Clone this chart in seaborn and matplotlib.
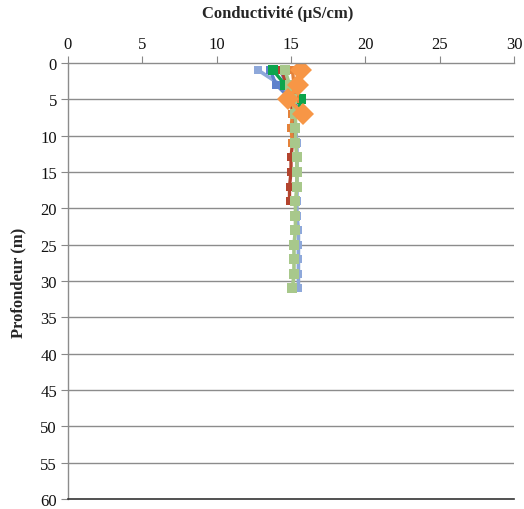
import numpy as np
import pandas as pd
import matplotlib
matplotlib.use("Agg")
import matplotlib.pyplot as plt
import seaborn as sns

# Depth of each sampling point (m)
depth_full = [1, 3, 5, 7, 9, 11, 13, 15, 17, 19, 21, 23, 25, 27, 29, 31]

# Conductivity profiles (µS/cm)
cond_blue = [12.8, 14.3, 15.0, 15.2, 15.3, 15.4, 15.4, 15.4, 15.4, 15.4, 15.4, 15.5, 15.5, 15.5, 15.5, 15.5]
cond_royal = [13.6, 14.0, 15.0]
cond_purple = [14.3, 14.7, 15.3, 15.4]
cond_red = [14.4, 14.7, 15.0, 15.1, 15.1, 15.1, 15.0, 15.0, 14.9, 14.9]
cond_green = [13.8, 14.6, 15.7, 15.4]
cond_darkorange = [15.1, 15.2, 15.3, 15.1, 15.0, 15.1]
cond_lightgreen = [14.6, 14.9, 15.1, 15.3, 15.3, 15.3, 15.4, 15.4, 15.4, 15.3, 15.3, 15.3, 15.2, 15.2, 15.2, 15.1]
cond_orange = [15.7, 15.5, 14.8, 15.8]

x_ticks = [0, 5, 10, 15, 20, 25, 30]
y_ticks = [0, 5, 10, 15, 20, 25, 30, 35, 40, 45, 50, 55, 60]

series = [
    (cond_blue, "#8EA8DA", "s", 6, 2.6),
    (cond_royal, "#5F82CC", "s", 6, 2.4),
    (cond_purple, "#7E68AE", "s", 6, 2.4),
    (cond_red, "#B3442E", "s", 6, 2.4),
    (cond_green, "#0DA54C", "s", 7, 2.4),
    (cond_darkorange, "#E4823A", "s", 6, 2.4),
    (cond_lightgreen, "#A8C88B", "s", 7, 2.6),
    (cond_orange, "#F79646", "D", 11, 2.8),
]

sns.set_style("white")
plt.rcParams["font.family"] = ["Liberation Serif", "DejaVu Serif"]

fig = plt.figure(figsize=(5.24, 5.10), dpi=100)
ax = fig.add_axes([68 / 524, 10 / 510, 446 / 524, 436 / 510])

for vals, color, mk, ms, lw in series:
    df = pd.DataFrame({"cond": vals, "depth": depth_full[:len(vals)]})
    sns.lineplot(data=df, x="cond", y="depth", sort=False, estimator=None,
                 ax=ax, color=color, marker=mk, markersize=ms,
                 markeredgewidth=0, linewidth=lw)

ax.set_xlim(0, 30)
ax.set_ylim(60, 0)
ax.set_xticks(x_ticks)
ax.set_yticks(y_ticks)
ax.xaxis.tick_top()
ax.tick_params(axis="x", which="both", top=True, bottom=False, length=5,
               color="#888888", labelsize=12, pad=3, labelcolor="#111111")
ax.tick_params(axis="y", left=True, length=5, color="#888888",
               labelsize=12, pad=3, labelcolor="#111111")
ax.set_xlabel("")
ax.set_ylabel("Profondeur (m)", fontsize=12, fontweight="bold")
ax.yaxis.set_label_coords(-0.094, 0.497)

# horizontal grid at every 5 m
for yv in y_ticks[1:-1]:
    ax.axhline(yv, color="#8C8C8C", linewidth=1.0, zorder=0)

ax.spines["right"].set_visible(False)
ax.spines["top"].set_color("#8C8C8C")
ax.spines["top"].set_linewidth(1.0)
ax.spines["left"].set_color("#8C8C8C")
ax.spines["left"].set_linewidth(1.0)
ax.spines["bottom"].set_color("#333333")
ax.spines["bottom"].set_linewidth(1.2)

fig.text(278 / 524, 1 - 14 / 510, "Conductivité (µS/cm)", ha="center", va="center",
         fontsize=12, fontweight="bold")

fig.savefig("out.png", dpi=100)
